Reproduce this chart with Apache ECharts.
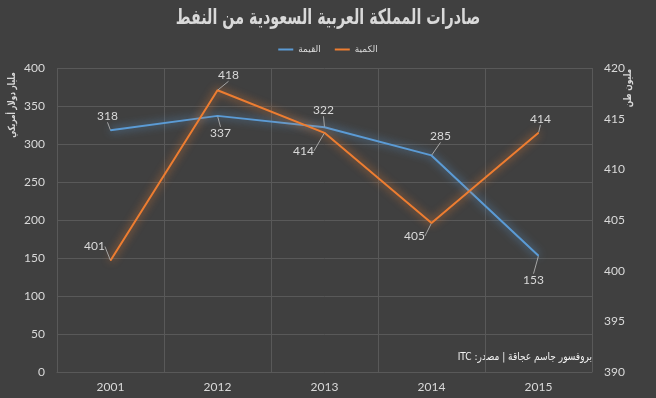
<!DOCTYPE html>
<html lang="ar">
<head>
    <meta charset="UTF-8">
    <title>صادرات المملكة العربية السعودية من النفط</title>
    <style>
        * { padding: 0; margin: 0; }
        html, body { height: 100%; width: 100%; background: #404040; }
        #chart { width: 656px; height: 398px; }
    </style>
</head>
<body>
    <div id="chart"></div>
    <script src="https://cdn.jsdelivr.net/npm/echarts@6/dist/echarts.min.js"></script>
    <script>
        // data
        const years = ['2001', '2012', '2013', '2014', '2015'];
        const valueBn = [318, 337, 322, 285, 153];            // مليار دولار
        const quantityMt = [401.0, 417.8, 413.6, 404.7, 413.6]; // مليون طن
        const valueName = 'القيمة';
        const quantityName = 'الكمية';

        // label offsets (style only)
        const valueOffsets = [[-3, -14], [3, 17], [-1, -17], [9, -19], [-5, 24]];
        const quantityOffsets = [[-16, -14], [11, -15], [-21, 18], [-17, 13], [2, -14]];

        const txt = '#d9d9d9';
        const font = 'Lato, "DejaVu Sans", sans-serif';
        const arFont = '"DejaVu Sans", sans-serif';
        const rtl = s => '\u202B' + s + '\u202C';

        const chart = echarts.init(document.getElementById('chart'), null, { renderer: 'canvas' });

        function lineSeries(name, data, offsets, color, axis) {
            return {
                name: name,
                type: 'line',
                yAxisIndex: axis,
                data: data,
                symbol: 'circle',
                symbolSize: 1,
                itemStyle: { color: color },
                lineStyle: { width: 2, color: color, shadowColor: color, shadowBlur: 8 },
                label: {
                    show: true,
                    position: 'inside',
                    color: txt,
                    fontSize: 12,
                    fontFamily: font,
                    formatter: p => Math.round(p.value)
                },
                labelLine: { show: true, lineStyle: { color: '#a6a6a6', width: 1 } },
                labelLayout: p => ({ dx: offsets[p.dataIndex][0], dy: offsets[p.dataIndex][1] }),
                animation: false
            };
        }

        const option = {
            backgroundColor: '#404040',
            legend: {
                top: 40,
                left: 'center',
                itemWidth: 15,
                itemHeight: 2,
                itemGap: 14,
                icon: 'rect',
                textStyle: { color: txt, fontSize: 9, fontFamily: arFont },
                data: [valueName, quantityName]
            },
            grid: { left: 57, right: 64, top: 68, bottom: 26 },
            xAxis: {
                type: 'category',
                data: years,
                boundaryGap: true,
                axisLine: { show: true, lineStyle: { color: '#595959' } },
                axisTick: { show: false },
                axisLabel: { color: txt, fontSize: 12, fontFamily: font, margin: 9 },
                splitLine: { show: true, lineStyle: { color: '#595959' } }
            },
            yAxis: [
                {
                    type: 'value',
                    min: 0, max: 400, interval: 50,
                    axisLine: { show: false },
                    axisTick: { show: false },
                    axisLabel: { color: txt, fontSize: 12, fontFamily: font, margin: 12 },
                    splitLine: { show: true, lineStyle: { color: '#595959' } }
                },
                {
                    type: 'value',
                    min: 390, max: 420, interval: 5,
                    axisLine: { show: false },
                    axisTick: { show: false },
                    axisLabel: { color: txt, fontSize: 12, fontFamily: font, margin: 12 },
                    splitLine: { show: false }
                }
            ],
            graphic: [
                {
                    type: 'text',
                    x: 328, y: 19,
                    scaleX: 0.68,
                    style: {
                        text: 'صادرات المملكة العربية السعودية من النفط',
                        fill: txt, font: 'bold 21px ' + arFont,
                        textAlign: 'center', textVerticalAlign: 'middle'
                    }
                },
                {
                    type: 'text',
                    x: 12, y: 105,
                    rotation: Math.PI / 2,
                    scaleX: 0.72,
                    style: {
                        text: 'مليار دولار أمريكي',
                        fill: txt, font: 'bold 10px ' + arFont,
                        textAlign: 'center', textVerticalAlign: 'middle'
                    }
                },
                {
                    type: 'text',
                    x: 628, y: 88,
                    rotation: Math.PI / 2,
                    scaleX: 0.75,
                    style: {
                        text: 'مليون طن',
                        fill: txt, font: 'bold 10px ' + arFont,
                        textAlign: 'center', textVerticalAlign: 'middle'
                    }
                },
                {
                    type: 'text',
                    x: 592, y: 357,
                    scaleX: 0.82,
                    style: {
                        text: rtl('بروفسور جاسم عجاقة | مصدر: ITC'),
                        fill: '#f2f2f2', font: '11px ' + arFont,
                        textAlign: 'right', textVerticalAlign: 'middle'
                    }
                }
            ],
            series: [
                lineSeries(valueName, valueBn, valueOffsets, '#5b9bd5', 0),
                lineSeries(quantityName, quantityMt, quantityOffsets, '#ed7d31', 1)
            ]
        };

        chart.setOption(option);
    </script>
</body>
</html>
